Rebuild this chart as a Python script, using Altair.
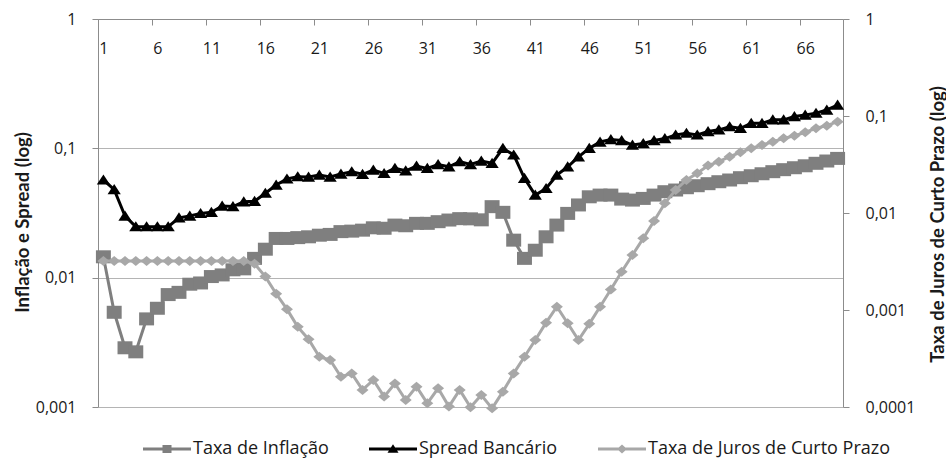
import altair as alt
import pandas as pd

# ---- data ----
periodo = list(range(1, 70))

inflacao = [
    0.0145, 0.0054, 0.00287, 0.00267, 0.0048, 0.0058, 0.0074, 0.0077, 0.0089, 0.0091,
    0.0102, 0.0105, 0.0115, 0.0117, 0.0141, 0.0166, 0.0201, 0.0201, 0.0204, 0.0207,
    0.0213, 0.0216, 0.0227, 0.0229, 0.0233, 0.0243, 0.0241, 0.0255, 0.0252, 0.0263,
    0.0263, 0.0271, 0.0279, 0.0286, 0.0285, 0.0280, 0.0354, 0.0320, 0.0195, 0.0141,
    0.0163, 0.0207, 0.0255, 0.0314, 0.0365, 0.0422, 0.0435, 0.0435, 0.0405, 0.0398,
    0.0410, 0.0435, 0.0462, 0.0476, 0.0496, 0.0514, 0.0533, 0.0552, 0.0569, 0.0593,
    0.0614, 0.0636, 0.0660, 0.0684, 0.0708, 0.0733, 0.0766, 0.0798, 0.0836,
]

spread = [
    0.057, 0.048, 0.030, 0.0248, 0.0248, 0.0248, 0.0248, 0.029, 0.030, 0.0314,
    0.032, 0.0358, 0.0355, 0.0386, 0.039, 0.045, 0.052, 0.058, 0.0604, 0.0600,
    0.0622, 0.0600, 0.0633, 0.0660, 0.0630, 0.0680, 0.0640, 0.0700, 0.0670, 0.0730,
    0.0700, 0.0750, 0.0720, 0.0790, 0.0750, 0.0798, 0.0766, 0.100, 0.089, 0.0586,
    0.0435, 0.049, 0.062, 0.072, 0.086, 0.100, 0.112, 0.117, 0.115, 0.106,
    0.109, 0.115, 0.119, 0.127, 0.131, 0.127, 0.135, 0.139, 0.147, 0.143,
    0.156, 0.156, 0.166, 0.166, 0.176, 0.181, 0.187, 0.198, 0.216,
]

juros = [
    0.0032, 0.0032, 0.0032, 0.0032, 0.0032, 0.0032, 0.0032, 0.0032, 0.0032, 0.0032,
    0.0032, 0.0032, 0.0032, 0.0032, 0.0030, 0.00221, 0.00147, 0.00102, 0.00067, 0.00050,
    0.00033, 0.000305, 0.000205, 0.000222, 0.00015, 0.00019, 0.000128, 0.000175, 0.000118, 0.000162,
    0.000109, 0.000156, 0.000101, 0.00015, 0.0000993, 0.000133, 0.0000969, 0.000144, 0.000222, 0.00033,
    0.00049, 0.00074, 0.00108, 0.00073, 0.00049, 0.00072, 0.00108, 0.00163, 0.00248, 0.00369,
    0.00548, 0.00828, 0.0126, 0.0173, 0.0219, 0.0257, 0.0308, 0.0338, 0.0381, 0.0422,
    0.0464, 0.0502, 0.0543, 0.0588, 0.0626, 0.0679, 0.0747, 0.0795, 0.0874,
]

serie_nomes = ["Taxa de Inflação", "Spread Bancário", "Taxa de Juros de Curto Prazo"]
x_ticks = list(range(1, 70, 5))
y_esq_ticks = [0.001, 0.01, 0.1, 1]
y_dir_ticks = [0.0001, 0.001, 0.01, 0.1, 1]

# ---- style ----
W, H = 745, 388
COR_INFL, COR_SPREAD, COR_JUROS = "#7f7f7f", "#000000", "#a8a8a8"
serie_cores = [COR_INFL, COR_SPREAD, COR_JUROS]
EIXO_COR = "#8c8c8c"
GRADE_COR = "#b4b4b4"
FONTE_ROT = "Open Sans"
FONTE_TIT = "Lato"
TXT_COR = "#1a1a1a"

# marker outlines (unit coordinates, scaled by sqrt(size)/2)
QUADRADO = "M-1.15,-1H1.15V1H-1.15Z"
TRIANGULO = "M0,-1L1.2,0.85L-1.2,0.85Z"
LOSANGO = "M0,-1L1.2,0L0,1L-1.2,0Z"

# legend keys: a horizontal bar with the series marker on it
_barra = "M-4.8,-0.3H4.8V0.3H-4.8Z"
leg_simbolos = [
    _barra + " M-0.9,-0.8H0.9V0.8H-0.9Z",
    _barra + " M0,-0.95L1.1,0.75L-1.1,0.75Z",
    _barra + " M0,-0.9L1,0L0,0.9L-1,0Z",
]

df = pd.DataFrame({"periodo": periodo, "infl": inflacao, "spread": spread, "juros": juros})

n = len(periodo)
meia_cat = W / n / 2

eixo_x = alt.Axis(
    values=x_ticks, orient="bottom", offset=-H, grid=False, title=None,
    tickSize=6, tickOffset=-meia_cat, labelOffset=meia_cat, labelPadding=15,
    labelAngle=0,
)
X = alt.X("periodo:Q", scale=alt.Scale(domain=[0.5, n + 0.5], nice=False, zero=False), axis=eixo_x)

rotulo_virgula = "replace(format(datum.value, '~f'), '.', ',')"

eixo_esq = alt.Axis(
    values=y_esq_ticks, orient="left", grid=True, gridColor=GRADE_COR,
    labelExpr=rotulo_virgula, tickSize=6, labelPadding=16,
    title="Inflação e Spread (log)", titleX=-76, titleY=203,
    titleAngle=270, titleBaseline="middle",
)
eixo_dir = alt.Axis(
    values=y_dir_ticks, orient="right", grid=False,
    labelExpr=rotulo_virgula, tickSize=6, labelPadding=16,
    title="Taxa de Juros de Curto Prazo (log)", titleX=94, titleY=205,
    titleAngle=270, titleBaseline="middle",
)
esc_esq = alt.Scale(type="log", domain=[0.001, 1], nice=False)
esc_dir = alt.Scale(type="log", domain=[0.0001, 1], nice=False)


def serie(campo, escala, eixo, cor, forma, tam):
    y = alt.Y(f"{campo}:Q", scale=escala, axis=eixo)
    base = alt.Chart(df).encode(x=X, y=y)
    linha = base.mark_line(color=cor, strokeWidth=3)
    pontos = base.mark_point(shape=forma, size=tam, filled=True, color=cor, opacity=1)
    return [linha, pontos]


esquerda = alt.layer(
    *serie("infl", esc_esq, eixo_esq, COR_INFL, QUADRADO, 169),
    *serie("spread", esc_esq, eixo_esq, COR_SPREAD, TRIANGULO, 121),
)
direita = alt.layer(*serie("juros", esc_dir, eixo_dir, COR_JUROS, LOSANGO, 100))

legenda = alt.Legend(
    orient="none", legendX=41, legendY=421, direction="horizontal", title=None,
    symbolSize=100, symbolOffset=19, labelOffset=17, columnPadding=36, padding=0,
    labelFont=FONTE_ROT, labelFontSize=18, labelColor=TXT_COR, labelLimit=500,
    symbolStrokeWidth=0,
)
leg_df = pd.DataFrame({"serie": serie_nomes})
chave = alt.Chart(leg_df).mark_point(filled=True, size=0, opacity=1).encode(
    shape=alt.Shape("serie:N", scale=alt.Scale(domain=serie_nomes, range=leg_simbolos), legend=legenda),
    color=alt.Color("serie:N", scale=alt.Scale(domain=serie_nomes, range=serie_cores), legend=legenda),
)

chart = (
    alt.layer(esquerda, direita, chave)
    .resolve_scale(y="independent")
    .properties(
        width=W, height=H,
        padding={"left": 98, "top": 19, "right": 103, "bottom": 52},
        autosize=alt.AutoSizeParams(type="none"),
        background="white",
    )
    .configure_view(stroke=None)
    .configure_axis(
        labelFont=FONTE_ROT, labelFontSize=16, labelColor=TXT_COR,
        titleFont=FONTE_TIT, titleFontSize=18.5, titleFontWeight="bold", titleColor=TXT_COR,
        domainColor=EIXO_COR, tickColor=EIXO_COR, domainWidth=1, tickWidth=1, gridWidth=1,
    )
)

chart.save("out.html", embed_options={"renderer": "svg", "actions": False})
